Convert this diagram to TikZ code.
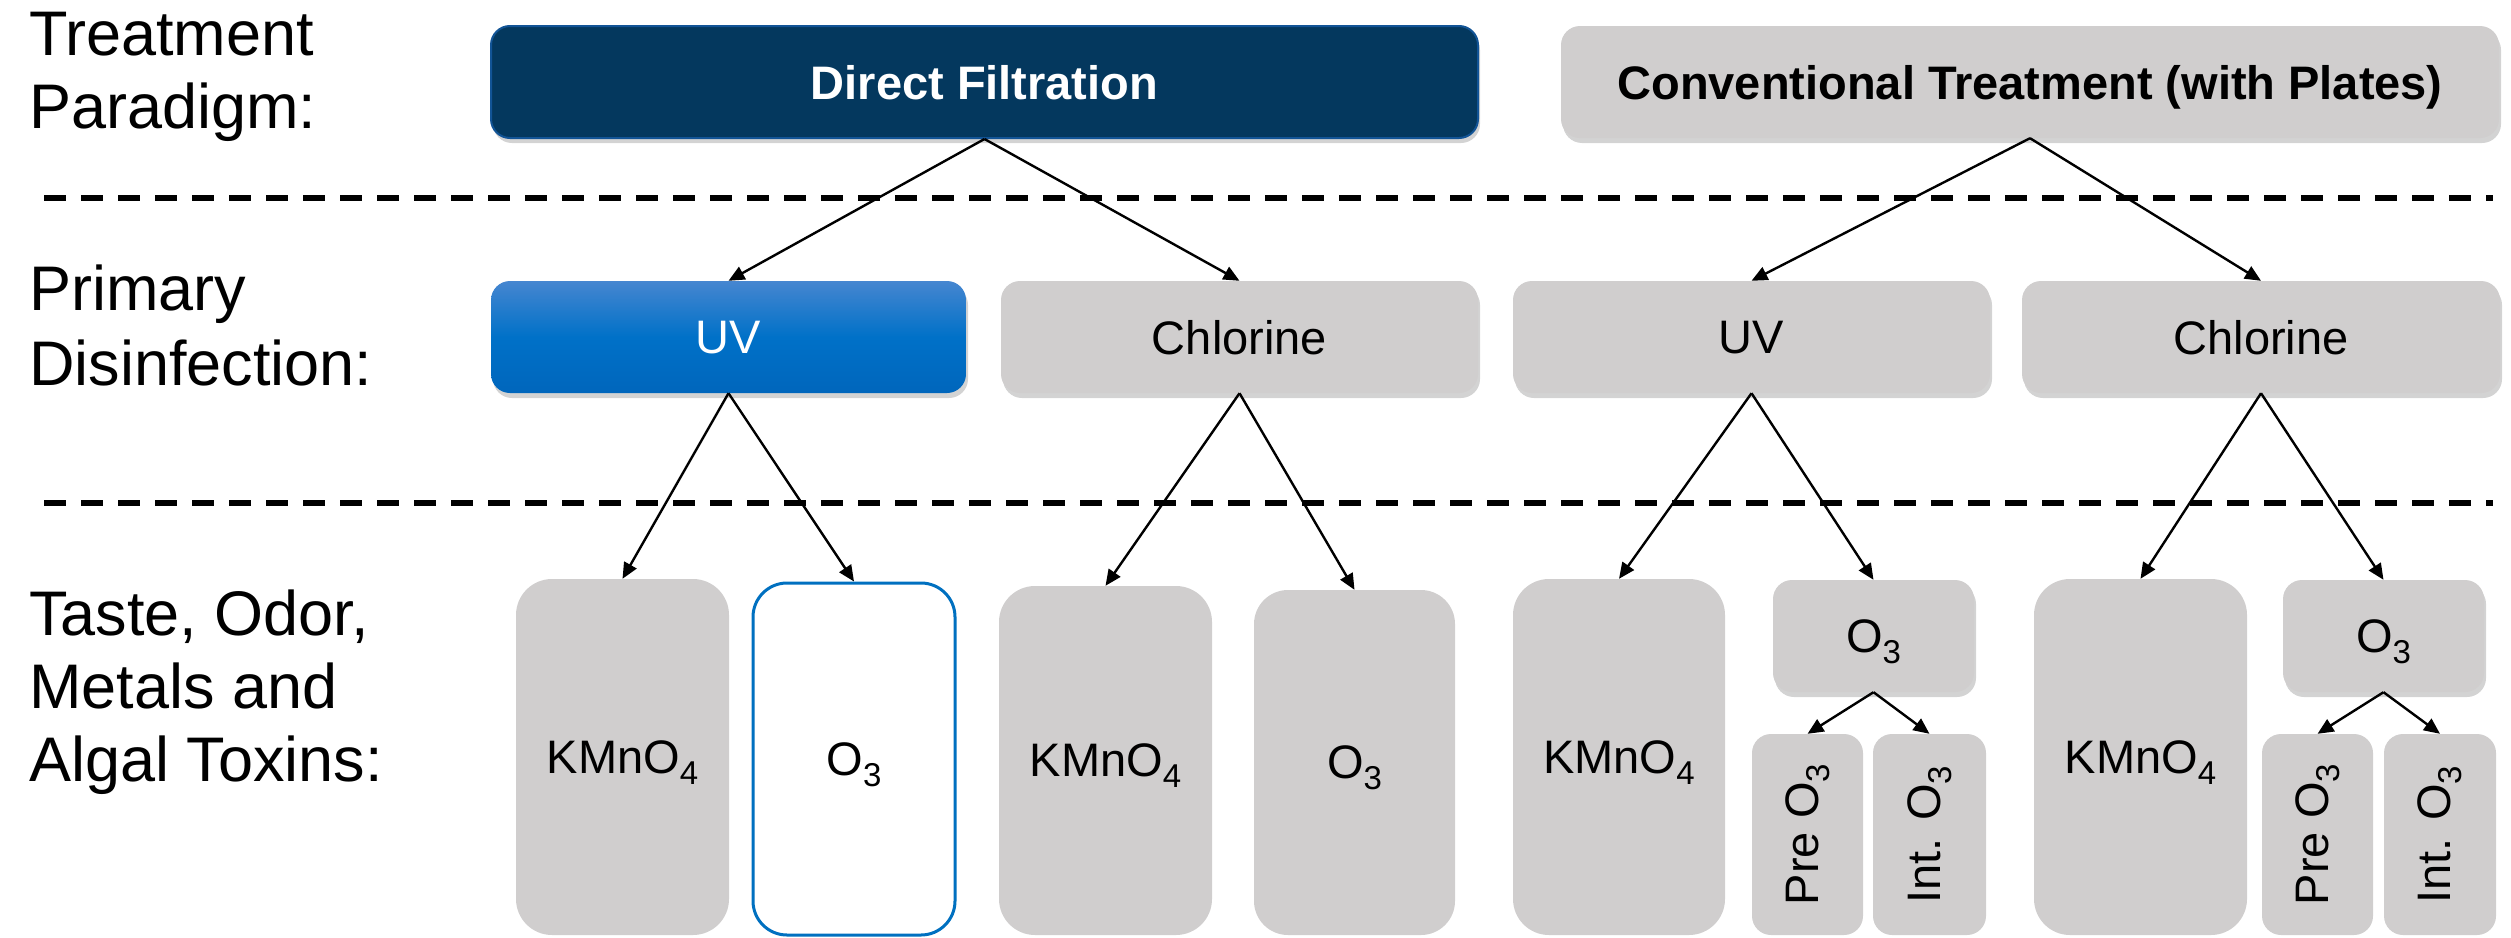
\documentclass[tikz,border=0pt]{standalone}
\usepackage{fontspec}
\setmainfont{Liberation Sans}
\usetikzlibrary{arrows.meta,shadows}

\definecolor{boxgray}{RGB}{208,206,206}
\definecolor{navy}{RGB}{4,56,94}
\definecolor{navyedge}{RGB}{18,84,150}
\definecolor{uvtop}{RGB}{70,134,208}
\definecolor{uvmid}{RGB}{0,113,200}
\definecolor{uvbot}{RGB}{0,102,188}
\definecolor{ozblue}{RGB}{0,112,192}

% chemical subscript at the size used in the boxes
\newcommand\chemsub[1]{\raisebox{-11pt}{\fontsize{33}{33}\selectfont #1}}

\begin{document}
\begin{tikzpicture}[x=1pt,y=-1pt,
  lbl/.style={anchor=base west, inner sep=0pt, font=\fontsize{63}{73}\selectfont},
  box/.style={rounded corners=#1, inner sep=0pt, text depth=0pt,
              font=\fontsize{47}{56}\selectfont},
  box/.default=19pt,
  graybox/.style={box=#1, fill=boxgray},
  graybox/.default=19pt,
  shade/.style={drop shadow={shadow xshift=2pt, shadow yshift=-5pt, opacity=0.35}},
  sep/.style={line width=6pt, dash pattern=on 22pt off 15pt},
  arr/.style={line width=2.4pt, -{Triangle[length=16pt, width=14pt]}},
]
\useasboundingbox (0,0) rectangle (2511,937);

% row labels
\node[lbl] (tp1) at (29,55)  {Treatment};
\node[lbl] (tp2) at (29,128) {Paradigm:};
\node[lbl] (pd1) at (29,310) {Primary};
\node[lbl] (pd2) at (29,385) {Disinfection:};
\node[lbl] (tx1) at (29,635) {Taste, Odor,};
\node[lbl] (tx2) at (29,708) {Metals and};
\node[lbl] (tx3) at (29,781) {Algal Toxins:};

% row separators
\coordinate (s1l) at (44,198);  \coordinate (s1r) at (2493,198);
\coordinate (s2l) at (44,503);  \coordinate (s2r) at (2493,503);
\draw[sep] (s1l) -- (s1r);
\draw[sep] (s2l) -- (s2r);

% treatment paradigm
\node[box, shade, fill=navy, draw=navyedge, line width=2pt, text=white,
      minimum width=987pt, minimum height=112pt,
      font=\fontsize{47}{56}\selectfont\bfseries] (df) at (984.5,82) {Direct Filtration};
\node[graybox, shade, minimum width=938pt, minimum height=112pt,
      font=\fontsize{47}{56}\selectfont\bfseries] (ct) at (2030,82) {Conventional Treatment (with Plates)};

% primary disinfection
\node[box, shade, top color=uvtop, bottom color=uvbot, middle color=uvmid, text=white,
      minimum width=475pt, minimum height=112pt] (uv1) at (728.5,337) {UV};
\node[graybox, shade, minimum width=477pt, minimum height=112pt] (cl1) at (1239.5,337) {Chlorine};
\node[graybox, shade, minimum width=477pt, minimum height=112pt] (uv2) at (1751.5,337) {UV};
\node[graybox, shade, minimum width=478pt, minimum height=112pt] (cl2) at (2261,337) {Chlorine};

% taste, odor, metals and algal toxins
\node[graybox=36pt, minimum width=213pt, minimum height=356pt] (k1) at (622.5,757) {KMnO\chemsub{4}};
\node[box=34pt, fill=white, draw=ozblue, line width=3pt,
      minimum width=202pt, minimum height=352pt] (o1) at (854,759) {O\chemsub{3}};
\node[graybox=36pt, minimum width=213pt, minimum height=349pt] (k2) at (1105.5,760.5) {KMnO\chemsub{4}};
\node[graybox=34pt, minimum width=201pt, minimum height=345pt] (o2) at (1354.5,762.5) {O\chemsub{3}};

\node[graybox=36pt, minimum width=212pt, minimum height=356pt] (k3) at (1619,757) {KMnO\chemsub{4}};
\node[graybox, shade, minimum width=201pt, minimum height=112pt] (o3a) at (1873.5,636) {O\chemsub{3}};
\node[graybox, minimum width=111pt, minimum height=201pt] (p1) at (1807.5,834.5) {\rotatebox{90}{Pre O\chemsub{3}}};
\node[graybox, minimum width=113pt, minimum height=201pt] (i1) at (1929.5,834.5) {\rotatebox{90}{Int. O\chemsub{3}}};

\node[graybox=36pt, minimum width=213pt, minimum height=356pt] (k4) at (2140.5,757) {KMnO\chemsub{4}};
\node[graybox, shade, minimum width=201pt, minimum height=112pt] (o3b) at (2383.5,636) {O\chemsub{3}};
\node[graybox, minimum width=111pt, minimum height=201pt] (p2) at (2317.5,834.5) {\rotatebox{90}{Pre O\chemsub{3}}};
\node[graybox, minimum width=112pt, minimum height=201pt] (i2) at (2440,834.5) {\rotatebox{90}{Int. O\chemsub{3}}};

% connectors
\draw[arr] (df.south) -- (uv1.north);
\draw[arr] (df.south) -- (cl1.north);
\draw[arr] (ct.south) -- (uv2.north);
\draw[arr] (ct.south) -- (cl2.north);

\draw[arr] (uv1.south) -- (k1.north);
\draw[arr] (uv1.south) -- (o1.north);
\draw[arr] (cl1.south) -- (k2.north);
\draw[arr] (cl1.south) -- (o2.north);
\draw[arr] (uv2.south) -- (k3.north);
\draw[arr] (uv2.south) -- (o3a.north);
\draw[arr] (cl2.south) -- (k4.north);
\draw[arr] (cl2.south) -- (o3b.north);

\draw[arr] (o3a.south) -- (p1.north);
\draw[arr] (o3a.south) -- (i1.north);
\draw[arr] (o3b.south) -- (p2.north);
\draw[arr] (o3b.south) -- (i2.north);
\end{tikzpicture}
\end{document}
